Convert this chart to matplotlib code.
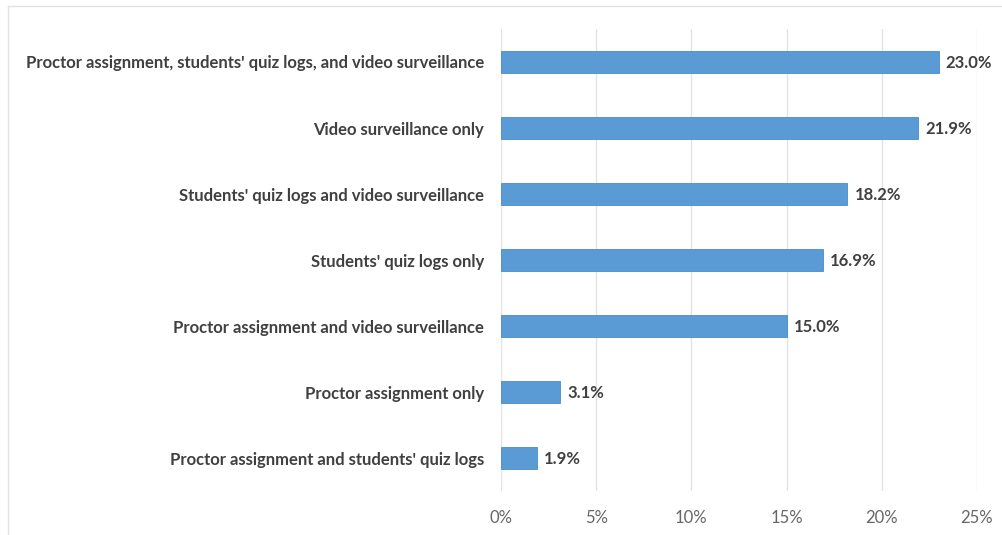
import matplotlib
matplotlib.use("Agg")
import matplotlib.pyplot as plt
from matplotlib.lines import Line2D
from matplotlib.ticker import FuncFormatter

# survey categories, bottom to top
categories = [
    "Proctor assignment and students' quiz logs",
    "Proctor assignment only",
    "Proctor assignment and video surveillance",
    "Students' quiz logs only",
    "Students' quiz logs and video surveillance",
    "Video surveillance only",
    "Proctor assignment, students' quiz logs, and video surveillance",
]
shares = [1.9, 3.1, 15.0, 16.9, 18.2, 21.9, 23.0]
x_ticks = [0, 5, 10, 15, 20, 25]

BAR = "#5B9BD5"
TEXT = "#404040"
TICK = "#666666"
GRID = "#E3E3E3"

plt.rcParams["font.family"] = ["Lato", "DejaVu Sans"]

fig = plt.figure(figsize=(10.02, 5.35), dpi=100)
ax = fig.add_axes([0.5, 0.0822, 0.475, 0.8636])

pos = range(len(categories))
ax.barh(pos, shares, height=0.34, color=BAR, edgecolor="#4A8BCB", linewidth=0.6, zorder=3)

for y, v in zip(pos, shares):
    ax.annotate(f"{v:.1f}%", (v, y), xytext=(5, -1), textcoords="offset points",
                va="center", ha="left", fontsize=12, fontweight="bold", color=TEXT)

ax.set_xlim(0, 25)
ax.set_ylim(-0.5, len(categories) - 0.5)
ax.set_xticks(x_ticks)
ax.xaxis.set_major_formatter(FuncFormatter(lambda v, _: f"{v:.0f}%"))
ax.set_yticks(list(pos))
ax.set_yticklabels(categories, fontsize=12, fontweight="bold", color=TEXT)

ax.grid(axis="x", color=GRID, linewidth=1, zorder=0)
ax.tick_params(axis="both", length=0)
ax.tick_params(axis="x", labelsize=12, labelcolor=TICK, pad=14)
ax.tick_params(axis="y", pad=12)
for s in ax.spines.values():
    s.set_visible(False)

# outer chart border (top and left edges)
fig.add_artist(Line2D([8 / 1002, 1], [1 - 6 / 535] * 2, color=GRID, linewidth=1))
fig.add_artist(Line2D([8 / 1002] * 2, [0, 1 - 6 / 535], color=GRID, linewidth=1))

fig.savefig("out.png", dpi=100)
